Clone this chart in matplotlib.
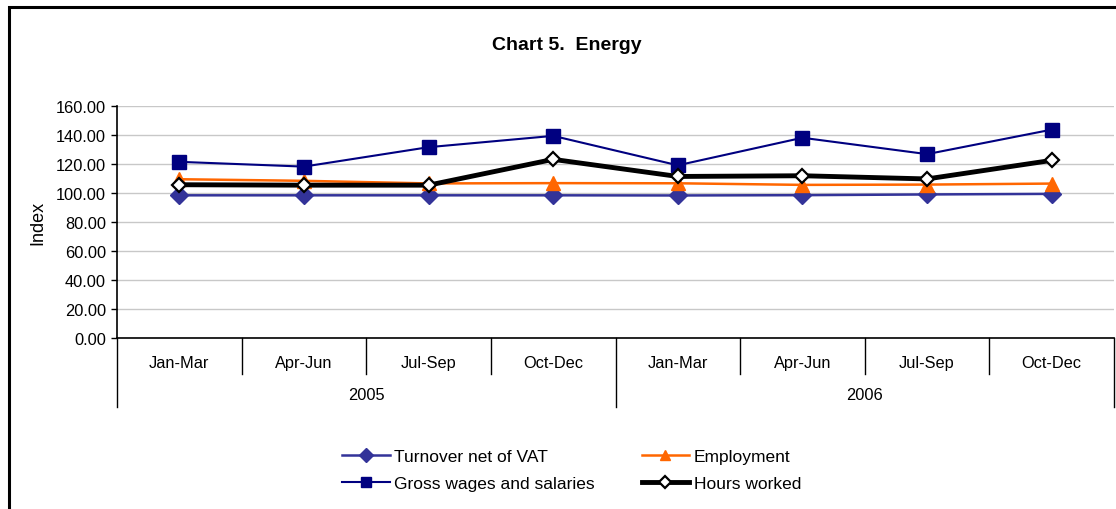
import matplotlib
matplotlib.use('Agg')
import matplotlib.pyplot as plt
from matplotlib.patches import Rectangle
from matplotlib.transforms import blended_transform_factory

plt.rcParams['font.family'] = ['Liberation Sans', 'DejaVu Sans']

# quarterly index values, 2005-2006
quarters = ['Jan-Mar', 'Apr-Jun', 'Jul-Sep', 'Oct-Dec',
            'Jan-Mar', 'Apr-Jun', 'Jul-Sep', 'Oct-Dec']
years = ['2005', '2006']
turnover = [98.4, 98.4, 98.4, 98.4, 98.3, 98.5, 99.0, 99.4]
employment = [109.5, 108.4, 106.6, 106.8, 106.7, 105.6, 105.8, 106.5]
gross_wages = [121.5, 118.2, 131.6, 139.4, 119.1, 138.1, 126.8, 143.7]
hours_worked = [105.7, 105.4, 105.4, 123.2, 111.4, 111.9, 109.7, 122.5]

fig = plt.figure(figsize=(11.16, 5.10), dpi=100)
ax = fig.add_axes([117 / 1116, 1 - 339 / 510, 997 / 1116, 232 / 510])

x = list(range(len(quarters)))
ax.plot(x, turnover, color='#333399', lw=1.8, marker='D', ms=9,
        label='Turnover net of VAT', zorder=3)
ax.plot(x, employment, color='#FF6600', lw=1.8, marker='^', ms=10,
        label='Employment', zorder=4)
ax.plot(x, gross_wages, color='#000080', lw=1.5, marker='s', ms=10,
        label='Gross wages and salaries', zorder=5)
ax.plot(x, hours_worked, color='black', lw=3.5, marker='D', ms=7.5,
        mfc='white', mec='black', mew=1.6, label='Hours worked', zorder=6)

ax.set_xlim(-0.5, len(quarters) - 0.5)
ax.set_ylim(0, 160)
ax.set_yticks(range(0, 161, 20))
ax.set_yticklabels([f'{v:.2f}' for v in range(0, 161, 20)], fontsize=11.8)
ax.tick_params(axis='y', length=4, width=1, pad=4)
ax.yaxis.grid(True, color='#c8c8c8', lw=1)
ax.set_axisbelow(True)
ax.set_ylabel('Index', fontsize=13, labelpad=7)

for s in ['top', 'right']:
    ax.spines[s].set_visible(False)
ax.spines['left'].set_linewidth(1.2)
ax.spines['bottom'].set_linewidth(1.2)

# two-level category axis
ax.set_xticks([])
tr = blended_transform_factory(ax.transData, ax.transAxes)
px = 1 / 232
for i in range(len(quarters) + 1):
    edge = i - 0.5
    depth = 69 if i % 4 == 0 else 36
    ax.plot([edge, edge], [0, -depth * px], color='black', lw=1,
            transform=tr, clip_on=False)
for i, q in enumerate(quarters):
    ax.text(i, -25 * px, q, transform=tr, ha='center', va='center',
            fontsize=11.8)
for j, yr in enumerate(years):
    ax.text(4 * j + 1.5, -57 * px, yr, transform=tr, ha='center',
            va='center', fontsize=11.8)

fig.text(567 / 1116, 1 - 45 / 510, 'Chart 5.  Energy', ha='center',
         va='center', fontsize=14, fontweight='bold')

handles, labels = ax.get_legend_handles_labels()
order = [0, 2, 1, 3]
fig.legend([handles[i] for i in order], [labels[i] for i in order],
           loc='upper left', bbox_to_anchor=(342 / 1116, 1 - 450 / 510),
           ncol=2, frameon=False, fontsize=12.5, handlelength=2.75,
           handletextpad=0.25, columnspacing=2.7, labelspacing=0.68,
           markerscale=0.75, borderpad=0, borderaxespad=0)

fig.patches.append(Rectangle((9 / 1116, -0.1), 1.2, 1.1 - 8 / 510,
                             transform=fig.transFigure, fill=False,
                             lw=2.2, edgecolor='black'))

fig.savefig('out.png', dpi=100)
